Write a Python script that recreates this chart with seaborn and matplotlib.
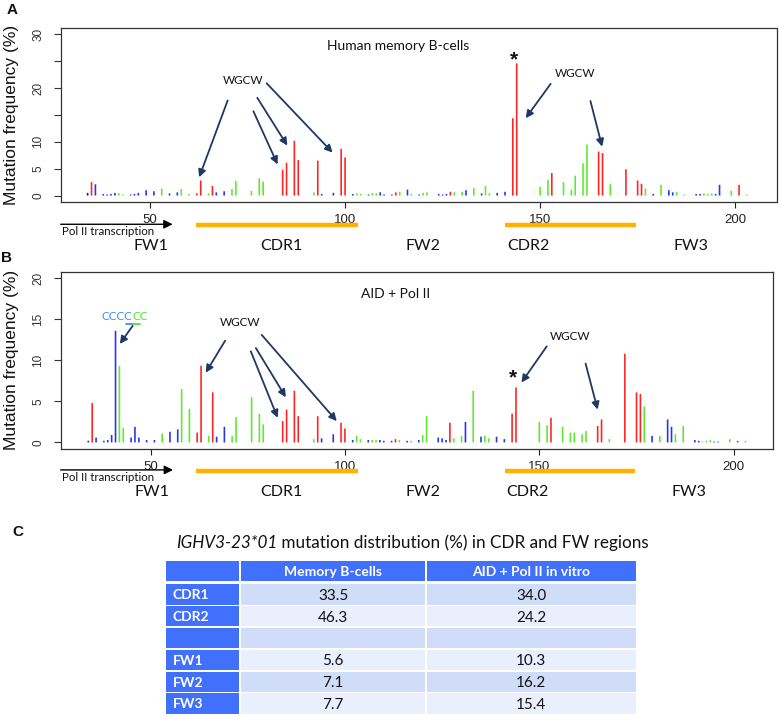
import numpy as np
import pandas as pd
import matplotlib
matplotlib.use("Agg")
import matplotlib.pyplot as plt
import matplotlib.transforms as mtransforms
from matplotlib.patches import Rectangle
import seaborn as sns

# ---------------- data ----------------
positions = [34, 35, 36, 38, 39, 40, 41, 42, 43, 45,
             46, 47, 49, 51, 53, 55, 57, 58, 60, 62,
             63, 65, 66, 67, 69, 71, 72, 76, 78, 79,
             84, 85, 87, 88, 92, 93, 94, 97, 99, 100,
             102, 103, 104, 106, 107, 108, 109, 110, 112, 113,
             114, 116, 117, 119, 120, 121, 124, 125, 126, 127,
             128, 130, 131, 133, 135, 136, 137, 139, 141, 143,
             144, 150, 152, 153, 156, 158, 159, 161, 162, 165,
             166, 168, 172, 175, 176, 177, 179, 181, 183, 184,
             185, 187, 190, 191, 192, 193, 194, 195, 196, 199,
             201, 203]
base_color = ['k', 'r', 'b', 'b', 'b', 'b', 'b', 'g', 'g', 'b',
              'b', 'b', 'b', 'b', 'g', 'b', 'b', 'g', 'g', 'r',
              'r', 'g', 'r', 'b', 'b', 'g', 'g', 'g', 'g', 'g',
              'r', 'r', 'r', 'r', 'g', 'r', 'b', 'b', 'r', 'r',
              'b', 'g', 'g', 'b', 'g', 'g', 'b', 'b', 'b', 'r',
              'g', 'b', 'g', 'b', 'g', 'g', 'b', 'b', 'b', 'r',
              'g', 'g', 'b', 'g', 'b', 'g', 'g', 'b', 'b', 'r',
              'r', 'g', 'g', 'r', 'g', 'g', 'g', 'g', 'g', 'r',
              'r', 'g', 'r', 'r', 'r', 'g', 'b', 'g', 'b', 'b',
              'g', 'g', 'b', 'b', 'g', 'g', 'g', 'b', 'b', 'g',
              'r', 'g']
freq_memory = [0.5, 2.5, 2.1, 0.3, 0.2, 0.3, 0.5, 0.4, 0.2, 0.2,
               0.3, 0.5, 1.0, 0.8, 1.3, 0.4, 0.6, 1.2, 0.3, 0.4,
               2.8, 0.4, 1.8, 0.6, 0.8, 1.2, 2.7, 0.9, 3.2, 2.6,
               4.8, 6.1, 10.2, 6.6, 0.6, 6.5, 0.3, 0.5, 8.7, 7.1,
               0.3, 0.4, 0.3, 0.2, 0.5, 0.4, 0.6, 0.2, 0.2, 0.6,
               0.7, 1.1, 0.3, 0.2, 0.5, 0.6, 0.3, 0.2, 0.3, 0.7,
               0.6, 0.7, 1.0, 1.4, 0.4, 1.8, 0.4, 0.5, 0.7, 14.4,
               24.6, 1.6, 2.9, 4.2, 2.5, 1.1, 3.7, 6.0, 9.5, 8.2,
               7.9, 2.1, 4.9, 2.8, 2.2, 1.3, 0.3, 2.0, 1.0, 0.6,
               0.7, 0.2, 0.3, 0.3, 0.4, 0.3, 0.4, 0.3, 2.0, 0.9,
               2.0, 0.2]
freq_aid = [0.2, 4.8, 0.6, 0.2, 0.3, 0.9, 13.6, 9.3, 1.8, 0.6,
            1.9, 0.6, 0.3, 0.3, 1.1, 1.3, 1.6, 6.5, 4.1, 1.2,
            9.35, 0.8, 6.1, 0.7, 1.9, 0.8, 3.1, 5.5, 3.5, 2.2,
            2.6, 4.0, 6.3, 3.2, 0.4, 3.2, 0.5, 1.0, 2.4, 1.7,
            0.3, 0.8, 0.4, 0.3, 0.3, 0.3, 0.3, 0.2, 0.2, 0.4,
            0.3, 0.2, 0.2, 0.3, 0.9, 3.2, 0.6, 0.5, 0.3, 2.4,
            0.5, 0.8, 2.5, 6.3, 0.7, 0.8, 0.5, 0.7, 0.4, 3.5,
            6.7, 2.5, 2.1, 3.0, 1.9, 1.2, 1.2, 1.0, 1.4, 2.0,
            2.8, 0.4, 10.8, 6.1, 5.9, 4.4, 0.8, 0.8, 2.8, 1.9,
            1.0, 2.0, 0.3, 0.2, 0.1, 0.2, 0.3, 0.1, 0.1, 0.4,
            0.2, 0.2]
assert len(positions) == len(base_color) == len(freq_memory) == len(freq_aid)

panel_titles = ["Human memory B-cells", "AID + Pol II"]
region_names = ["FW1", "CDR1", "FW2", "CDR2", "FW3"]
region_centers = [50.3, 83.7, 120.0, 147.0, 188.6]
cdr_spans = [(61.7, 103.4), (141.1, 174.5)]
x_ticks = [50, 100, 150, 200]

table_rows = ["CDR1", "CDR2", "", "FW1", "FW2", "FW3"]
table_cols = ["Memory B-cells", "AID + Pol II in vitro"]
memory_pct = [33.5, 46.3, None, 5.6, 7.1, 7.7]
aid_pct = [34.0, 24.2, None, 10.3, 16.2, 15.4]

# ---------------- style ----------------
sns.set_style("white")
plt.rcParams['font.family'] = ['Liberation Sans', 'DejaVu Sans']
plt.rcParams['patch.force_edgecolor'] = False
OVER = ['Lato', 'DejaVu Sans']

palette = {'r': '#FF2424', 'g': '#5EEA2E', 'b': '#2A32F2', 'k': '#22224A'}
NAVY = '#1F3864'
ORANGE = '#FFB300'

W, H = 779, 717
fig = plt.figure(figsize=(W / 100, H / 100), dpi=100)


def px_axes(l, t, r, b):
    return fig.add_axes([l / W, 1 - b / H, (r - l) / W, (b - t) / H])


axA = px_axes(60.7, 28, 776.5, 202)
axB = px_axes(60.7, 271.7, 773, 449)

df = pd.DataFrame({'pos': positions, 'base': base_color,
                   'memory': freq_memory, 'aid': freq_aid})

panels = [
    dict(ax=axA, col='memory', ylim=(-1.2, 31.2), xlim=(27.1, 210.6),
         yticks=[0, 5, 10, 15, 20, 25, 30], ylabels=['0', '5', '10', '', '20', '', '30'],
         title_xy=(113.6, 27.9),
         wgcw=[(73.8, 21.4), (159.0, 22.8)],
         star=(143.3, 25.2),
         arrows=[((69.9, 17.7), (62.6, 3.4)), ((76.5, 15.7), (82.7, 5.8)),
                 ((77.5, 18.2), (85.2, 9.3)), ((79.9, 20.9), (96.8, 8.0)),
                 ((152.7, 20.8), (146.3, 14.4)), ((162.9, 17.6), (165.9, 9.1))],
         y_arrow=-0.128, y_bar=-0.132, y_pol=-0.172, y_reg=-0.252),
    dict(ax=axB, col='aid', ylim=(-0.8, 20.8), xlim=(26.9, 210.1),
         yticks=[0, 5, 10, 15, 20], ylabels=['0', '5', '10', '15', '20'],
         title_xy=(113.1, 18.1),
         wgcw=[(73.0, 14.6), (157.9, 12.9)],
         star=(143.3, 7.9),
         arrows=[((45.4, 14.2), (42.1, 12.0)),
                 ((69.2, 12.4), (64.2, 8.5)), ((75.8, 11.1), (82.7, 3.0)),
                 ((77.1, 11.5), (84.8, 5.5)), ((78.6, 13.1), (97.9, 2.6)),
                 ((151.9, 11.7), (145.4, 7.3)), ((161.9, 9.6), (165.0, 4.0))],
         y_arrow=-0.118, y_bar=-0.124, y_pol=-0.160, y_reg=-0.245),
]

for i, p in enumerate(panels):
    ax = p['ax']
    sns.barplot(data=df, x='pos', y=p['col'], hue='base', palette=palette,
                native_scale=True, dodge=False, width=0.42, saturation=1,
                errorbar=None, legend=False, linewidth=0, edgecolor='none',
                snap=False, ax=ax)
    ax.set_xlim(*p['xlim'])
    ax.set_ylim(*p['ylim'])
    for s in ax.spines.values():
        s.set_visible(True)
        s.set_color('#333333')
        s.set_linewidth(0.9)
    ax.set_xticks(x_ticks)
    ax.set_xticklabels([str(t) for t in x_ticks])
    ax.set_yticks(p['yticks'])
    ax.set_yticklabels(p['ylabels'])
    ax.tick_params(axis='y', left=True, length=4.8, width=0.8, pad=7,
                   labelsize=8.5, labelrotation=90, colors='#333333')
    for lab in ax.get_yticklabels():
        lab.set_va('center')
    ax.tick_params(axis='x', bottom=True, length=4.5, width=0.8, pad=4,
                   labelsize=9.5, colors='#222222')
    ax.set_xlabel('')
    ax.set_ylabel('Mutation frequency (%)', fontsize=12.5, color='#111111')
    ax.yaxis.set_label_coords(-0.058, 0.5)

    ax.text(*p['title_xy'], panel_titles[i], ha='center', va='center',
            fontsize=10, family=OVER, color='#111111')
    for (x, y) in p['wgcw']:
        ax.text(x, y, 'WGCW', ha='center', va='center', fontsize=8.5,
                family=OVER, color='#111111')
    ax.text(*p['star'], '*', ha='center', va='center', fontsize=15,
            fontweight='bold', color='#111111')
    for (s, e) in p['arrows']:
        ax.annotate('', xy=e, xytext=s,
                    arrowprops=dict(arrowstyle='-|>', color=NAVY, lw=1.3,
                                    mutation_scale=11, shrinkA=0, shrinkB=0))

    trans = mtransforms.blended_transform_factory(ax.transData, ax.transAxes)
    for (a, b) in cdr_spans:
        ax.plot([a, b], [p['y_bar']] * 2, color=ORANGE, lw=3.2,
                solid_capstyle='butt', transform=trans, clip_on=False)
    ax.annotate('', xy=(55.8, p['y_arrow']), xytext=(p['xlim'][0], p['y_arrow']),
                xycoords=trans, textcoords=trans, annotation_clip=False,
                arrowprops=dict(arrowstyle='-|>', color='black', lw=1.0,
                                mutation_scale=13, shrinkA=0, shrinkB=0))
    ax.text(p['xlim'][0] + 0.3, p['y_pol'], 'Pol II transcription', transform=trans,
            ha='left', va='center', fontsize=8.3, family=OVER, color='#111111')
    for name, cx in zip(region_names, region_centers):
        ax.text(cx, p['y_reg'], name, transform=trans, ha='center', va='center',
                fontsize=11.5, family=OVER, color='#111111')

# CCCCCC motif label in panel B
axB.text(45.4, 15.3, 'CCCC', ha='right', va='center', fontsize=8.5,
         family=OVER, color='#3D8BFF')
axB.text(45.4, 15.3, 'CC', ha='left', va='center', fontsize=8.5,
         family=OVER, color='#4FE61E')
axB.plot([43.6, 45.4], [14.45, 14.45], color='#3D8BFF', lw=1.3)
axB.plot([45.4, 47.2], [14.45, 14.45], color='#4FE61E', lw=1.3)

# panel letters
for lab, (x, y) in zip(['A', 'B', 'C'], [(11.7, 10.5), (6.5, 257.5), (18, 532)]):
    fig.text(x / W, 1 - y / H, lab, ha='center', va='center', fontsize=11,
             fontweight='bold', color='#111111')

# ---------------- table (panel C) ----------------
tab = fig.add_axes([0, 0, 1, 1])
tab.set_xlim(0, W)
tab.set_ylim(H, 0)
tab.axis('off')

fig.text(277 / W, 1 - 543 / H, 'IGHV3-23*01', ha='right', va='center',
         fontsize=12.3, style='italic', family=OVER, color='#111111')
fig.text(277 / W, 1 - 543 / H, ' mutation distribution (%) in CDR and FW regions',
         ha='left', va='center', fontsize=12.3, family=OVER, color='#111111')

HEAD_BLUE = '#4170FC'
DARK = '#D0DDF8'
LIGHT = '#E9EFFC'
col_edges = [166, 240, 426, 636]
gap = 1.6
header_top, header_h = 561, 19.7
row_top0, row_pitch, row_h = 584.3, 21.8, 20.2


def cell(j, top, h, color):
    x0 = col_edges[j] + (gap / 2 if j > 0 else 0)
    x1 = col_edges[j + 1] - (gap / 2 if j < len(col_edges) - 2 else 0)
    tab.add_patch(Rectangle((x0, top), x1 - x0, h, facecolor=color,
                            edgecolor='none'))
    return (x0 + x1) / 2, x0


for j in range(3):
    cx, _ = cell(j, header_top, header_h, HEAD_BLUE)
    if j > 0:
        tab.text(cx, header_top + header_h / 2 + 1, table_cols[j - 1],
                 ha='center', va='center', fontsize=10, fontweight='bold',
                 family=OVER, color='white')

for r, name in enumerate(table_rows):
    top = row_top0 + r * row_pitch
    shade = DARK if r % 2 == 0 else LIGHT
    _, x0 = cell(0, top, row_h, HEAD_BLUE)
    tab.text(x0 + 7, top + row_h / 2 + 1, name, ha='left', va='center',
             fontsize=10, fontweight='bold', family=OVER, color='white')
    for j, vals in zip([1, 2], [memory_pct, aid_pct]):
        cx, _ = cell(j, top, row_h, shade)
        v = vals[r]
        if v is not None:
            tab.text(cx, top + row_h / 2 + 1.5, f'{v:.1f}', ha='center',
                     va='center', fontsize=11, family=OVER, color='#111111')

fig.savefig('out.png', dpi=100)
